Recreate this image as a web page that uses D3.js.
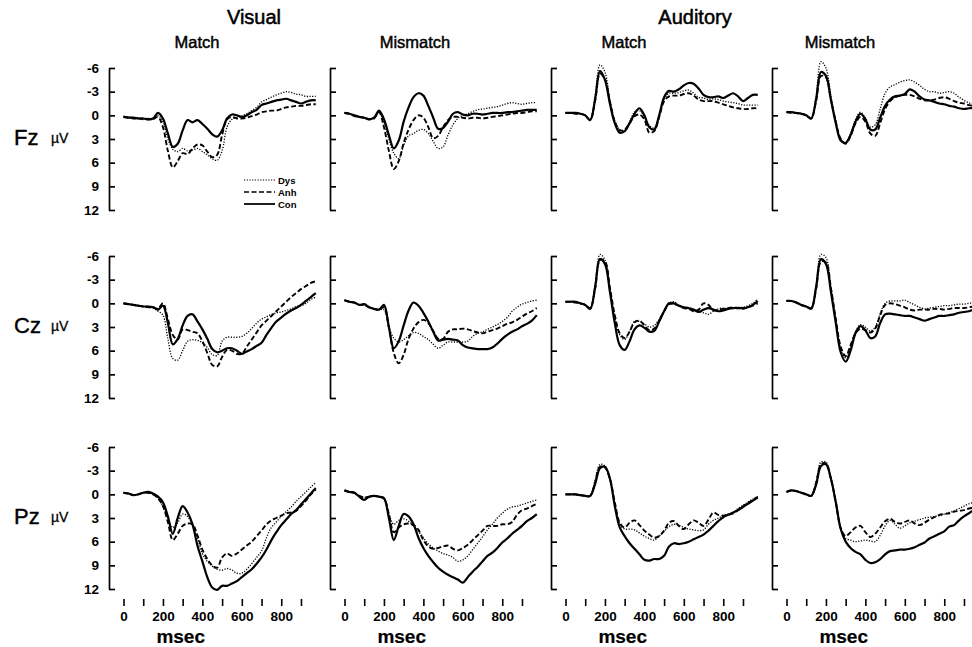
<!DOCTYPE html>
<html>
<head>
<meta charset="utf-8">
<script src="https://cdn.jsdelivr.net/npm/d3@7"></script>
<style>
  body { margin: 0; background: #fff; }
  text { font-family: "Liberation Sans", Arial, Helvetica, sans-serif; fill: #000; }
</style>
</head>
<body>
<svg id="chart"></svg>
<script>
// time points (msec) shared by every waveform
const times = [0,25,50,75,100,125,150,175,200,225,250,275,300,325,350,375,400,425,450,475,
               500,525,550,575,600,625,650,675,700,725,750,775,800,825,850,875,900,925,950,975];

const modalities = ["Visual", "Auditory"];
const conditions = ["Match", "Mismatch", "Match", "Mismatch"];
const sites = ["Fz", "Cz", "Pz"];
const groups = ["Dys", "Anh", "Con"];
const yTicks = [-6, -3, 0, 3, 6, 9, 12];
const xTicks = [0, 100, 200, 300, 400, 500, 600, 700, 800, 900];

// ---- Fz ----
const fzVisMatchDys = [0.1,0.2,0.3,0.3,0.4,0.4,0.4,0.0,0.8,3.0,4.3,4.6,4.2,4.5,4.4,4.2,4.6,5.0,5.5,5.7,4.5,1.5,0.5,0.3,0.1,-0.2,-0.6,-1.0,-1.7,-2.0,-2.3,-2.6,-2.8,-3.0,-2.9,-2.7,-2.6,-2.4,-2.4,-2.4];
const fzVisMatchAnh = [0.2,0.3,0.4,0.4,0.5,0.5,0.5,0.2,1.5,4.5,6.6,5.8,4.8,4.9,4.2,3.7,3.8,4.6,5.3,5.0,2.5,0.5,0.2,0.4,0.4,0.3,0.1,-0.1,-0.4,-0.5,-0.6,-0.6,-0.8,-1.0,-1.1,-1.2,-1.2,-1.3,-1.4,-1.4];
const fzVisMatchCon = [0.2,0.3,0.3,0.4,0.4,0.5,0.4,-0.3,0.4,2.3,4.0,3.6,1.9,0.6,0.9,0.6,1.1,1.7,2.4,2.7,1.9,0.4,-0.1,0.0,0.2,0.0,-0.4,-0.7,-1.3,-1.5,-1.7,-1.9,-2.0,-2.1,-1.9,-1.7,-1.5,-1.7,-1.9,-1.9];

const fzVisMisDys = [-0.3,-0.2,0.0,0.2,0.3,0.5,0.4,-0.4,1.0,3.0,4.8,5.5,3.8,2.6,2.3,1.9,1.8,2.3,3.3,4.2,4.0,2.5,1.2,0.4,0.0,-0.2,-0.5,-0.7,-0.8,-0.9,-1.0,-1.1,-1.3,-1.5,-1.6,-1.5,-1.4,-1.5,-1.6,-1.6];
const fzVisMisAnh = [-0.3,-0.2,0.1,0.2,0.3,0.5,0.4,-0.4,1.5,4.5,6.8,5.8,3.5,1.8,0.6,0.0,0.3,1.5,2.9,2.6,1.5,0.6,0.2,0.2,0.3,0.4,0.3,0.3,0.4,0.3,0.2,0.1,0.0,-0.1,-0.2,-0.3,-0.3,-0.4,-0.5,-0.5];
const fzVisMisCon = [-0.3,-0.2,0.0,0.2,0.3,0.5,0.3,-0.6,0.5,2.5,4.2,3.2,0.8,-1.0,-2.3,-2.8,-2.5,-1.2,0.3,1.7,1.6,0.8,-0.2,-0.4,-0.1,0.0,-0.2,-0.2,-0.1,-0.2,-0.3,-0.3,-0.3,-0.4,-0.4,-0.5,-0.6,-0.7,-0.7,-0.7];

const fzAudMatchDys = [-0.3,-0.3,-0.3,-0.2,0.0,0.5,-2.5,-6.4,-5.5,-2.0,0.7,1.8,2.0,0.8,-0.4,-0.6,0.2,1.3,1.6,0.0,-2.0,-2.8,-2.8,-2.9,-3.1,-3.2,-2.8,-2.3,-2.2,-2.0,-2.1,-2.0,-1.8,-1.7,-1.6,-1.5,-1.3,-1.3,-1.3,-1.3];
const fzAudMatchAnh = [-0.3,-0.3,-0.2,-0.2,0.0,0.6,-1.8,-5.3,-4.6,-1.8,0.8,1.9,1.8,1.0,0.1,-0.1,0.5,2.2,2.0,0.2,-1.8,-2.4,-2.5,-2.5,-2.7,-2.8,-2.5,-2.0,-1.8,-1.8,-1.8,-1.6,-1.4,-1.2,-1.0,-0.9,-0.8,-0.8,-0.9,-0.9];
const fzAudMatchCon = [-0.3,-0.3,-0.3,-0.2,0.0,0.6,-2.0,-5.6,-4.5,-1.5,1.0,2.2,2.0,1.0,-0.2,-0.9,0.0,1.5,1.8,0.0,-2.3,-3.1,-3.0,-3.3,-3.8,-4.1,-4.0,-3.4,-2.6,-2.3,-2.3,-2.4,-2.2,-2.5,-2.8,-2.4,-1.8,-2.2,-2.6,-2.6];

const fzAudMisDys = [-0.4,-0.4,-0.3,-0.2,0.0,0.4,-2.5,-6.8,-6.0,-2.5,0.8,3.0,3.5,2.3,0.5,-0.4,0.3,1.5,1.2,-0.8,-2.8,-3.6,-3.9,-4.2,-4.4,-4.5,-4.2,-3.8,-3.3,-3.0,-3.0,-2.8,-2.9,-3.0,-2.8,-2.3,-1.9,-1.6,-1.5,-1.5];
const fzAudMisAnh = [-0.4,-0.3,-0.3,-0.2,0.0,0.4,-1.8,-5.0,-4.8,-2.0,0.8,3.0,3.6,2.6,1.0,0.2,0.8,2.3,2.6,1.0,-0.8,-1.8,-2.3,-2.5,-2.6,-2.6,-2.4,-2.1,-1.9,-1.9,-2.0,-2.2,-2.3,-2.1,-1.8,-1.6,-1.5,-1.3,-1.2,-1.2];
const fzAudMisCon = [-0.4,-0.4,-0.3,-0.2,0.0,0.4,-2.0,-5.5,-5.0,-2.0,1.0,3.2,3.5,2.5,0.8,-0.2,0.5,1.8,1.8,0.3,-1.2,-2.0,-2.4,-2.5,-2.7,-3.3,-3.0,-2.4,-2.0,-1.9,-1.7,-1.5,-1.4,-1.2,-1.1,-0.9,-0.8,-0.9,-0.9,-0.9];

// ---- Cz ----
const czVisMatchDys = [0.0,0.1,0.2,0.3,0.4,0.5,0.6,1.0,1.5,4.5,7.0,7.2,6.0,4.8,4.6,4.7,5.0,5.6,6.5,6.6,4.8,4.3,4.3,4.3,4.2,3.8,3.2,2.5,2.0,1.7,1.4,1.2,1.1,0.9,0.7,0.4,0.3,0.0,-0.5,-0.8];
const czVisMatchAnh = [0.0,0.1,0.2,0.3,0.4,0.5,0.5,0.7,0.0,2.0,4.0,4.6,3.3,3.4,3.6,3.8,4.8,6.3,7.8,8.0,6.8,5.9,6.0,6.4,6.4,5.5,4.6,3.7,2.8,2.2,1.6,1.0,0.4,-0.2,-0.8,-1.3,-1.8,-2.2,-2.6,-2.8];
const czVisMatchCon = [0.0,0.1,0.2,0.3,0.4,0.4,0.5,0.8,0.3,2.5,5.2,4.5,2.8,1.6,1.4,2.3,3.3,4.5,5.8,6.2,6.0,5.7,5.7,6.0,6.4,6.1,5.8,5.4,5.0,4.0,3.1,2.3,1.8,1.3,0.9,0.6,0.2,-0.3,-0.8,-1.3];

const czVisMisDys = [-0.4,-0.2,-0.1,0.2,0.2,0.5,0.7,0.8,0.8,3.0,4.4,4.9,4.6,4.1,3.7,3.8,4.2,4.6,5.2,5.7,5.3,4.9,4.9,4.9,4.9,4.8,4.2,3.8,3.6,3.3,3.0,2.7,2.3,1.8,1.0,0.5,0.1,-0.1,-0.3,-0.4];
const czVisMisAnh = [-0.4,-0.2,-0.1,0.2,0.2,0.5,0.7,0.8,0.5,3.0,6.3,7.6,6.5,4.5,3.2,2.4,2.1,2.5,3.5,4.5,4.5,3.6,3.3,3.3,3.2,3.3,3.5,3.7,3.8,3.6,3.4,3.2,2.9,2.6,2.4,2.1,1.7,1.3,1.0,0.6];
const czVisMisCon = [-0.4,-0.2,-0.1,0.2,0.1,0.5,0.7,0.8,0.2,3.0,5.7,4.8,2.8,0.9,-0.1,0.3,1.2,2.3,3.6,4.7,4.6,4.5,4.6,4.7,5.3,5.6,5.7,5.8,5.8,5.8,5.6,5.1,4.5,4.0,3.6,3.3,2.9,2.6,2.2,1.5];

const czAudMatchDys = [-0.2,-0.2,-0.2,0.0,0.2,0.6,-2.4,-6.2,-5.5,-2.0,1.8,4.0,4.6,3.5,2.3,2.3,2.6,3.0,2.8,2.0,1.0,0.0,-0.2,0.2,0.5,0.6,0.8,1.0,1.2,1.4,1.0,0.7,0.6,0.7,0.6,0.5,0.5,0.3,0.0,-0.6];
const czAudMatchAnh = [-0.2,-0.2,-0.1,0.0,0.2,0.6,-1.8,-5.5,-5.3,-2.0,1.5,3.8,4.4,3.6,2.4,2.2,2.8,3.4,3.2,2.2,1.0,0.1,0.1,0.3,0.6,0.7,1.0,0.8,0.0,0.2,0.9,0.8,0.7,0.6,0.5,0.6,0.7,0.5,0.3,0.0];
const czAudMatchCon = [-0.2,-0.2,-0.2,0.0,0.2,0.7,-2.0,-5.6,-5.0,-1.5,2.5,5.3,5.9,4.8,3.3,2.8,3.1,3.6,3.5,2.3,1.0,0.0,0.0,0.3,0.5,0.6,0.8,1.1,0.8,0.6,0.8,1.0,0.9,0.7,0.6,0.6,0.6,0.5,0.2,-0.3];

const czAudMisDys = [-0.3,-0.3,-0.1,0.2,0.4,0.6,-2.4,-6.2,-5.8,-2.0,2.0,5.8,6.9,5.5,3.6,2.7,3.0,3.5,3.0,1.3,0.0,-0.3,-0.3,-0.3,-0.4,-0.1,0.2,0.5,0.7,0.6,0.5,0.4,0.3,0.3,0.2,0.1,0.1,0.0,-0.1,-0.1];
const czAudMisAnh = [-0.3,-0.3,-0.1,0.2,0.4,0.6,-1.8,-5.3,-5.2,-2.0,2.0,5.5,6.7,5.3,3.8,3.2,3.4,3.7,3.2,1.5,0.2,0.0,0.1,0.3,0.5,0.8,0.9,0.8,0.8,0.8,0.7,0.7,0.8,0.7,0.6,0.6,0.6,0.5,0.4,0.4];
const czAudMisCon = [-0.3,-0.3,-0.1,0.2,0.4,0.7,-2.0,-5.6,-5.0,-1.5,2.5,6.2,7.4,6.0,3.8,2.9,3.4,4.4,4.2,2.5,1.4,1.3,1.4,1.5,1.6,1.6,1.8,2.0,2.2,2.0,1.8,1.6,1.6,1.5,1.4,1.2,1.1,1.0,0.8,0.8];

// ---- Pz ----
const pzVisMatchDys = [-0.2,-0.1,0.1,0.0,-0.2,-0.2,0.0,0.5,1.5,3.0,4.2,3.6,2.5,2.8,4.0,5.5,7.5,8.5,9.1,9.5,9.6,9.4,9.6,10.0,10.0,9.5,8.8,8.0,7.2,5.5,4.2,3.5,2.8,2.2,1.6,0.9,0.3,-0.3,-0.9,-1.5];
const pzVisMatchAnh = [-0.2,-0.1,0.1,0.0,-0.2,-0.2,0.0,0.5,1.5,3.5,5.8,5.0,4.0,3.7,3.8,5.2,7.0,8.2,9.0,9.3,8.0,7.5,7.8,7.5,7.0,6.5,6.0,5.3,4.6,3.8,3.3,3.0,2.7,2.4,2.3,2.1,1.5,0.8,0.0,-0.6];
const pzVisMatchCon = [-0.2,-0.1,0.1,0.0,-0.2,-0.3,-0.1,0.3,1.0,2.8,5.0,3.0,1.5,2.3,3.8,6.5,8.5,10.5,11.8,12.1,11.6,11.6,11.3,11.0,10.5,10.0,9.5,8.8,8.0,7.0,5.8,4.8,3.9,3.2,2.5,2.0,1.3,0.6,-0.1,-0.8];

const pzVisMisDys = [-0.5,-0.3,-0.2,0.2,0.4,0.3,0.2,0.3,0.5,2.5,3.8,3.3,3.1,3.4,4.0,4.7,5.5,6.3,6.8,7.2,7.5,7.7,8.0,8.5,8.3,7.8,7.0,6.2,5.4,4.5,3.8,3.0,2.4,1.9,1.6,1.5,1.3,1.1,0.9,0.7];
const pzVisMisAnh = [-0.5,-0.3,-0.2,0.2,0.4,0.3,0.2,0.3,0.5,2.5,4.8,4.2,3.8,3.7,3.9,4.5,5.8,6.6,6.9,6.8,6.6,6.5,6.9,7.1,6.8,6.4,5.8,5.2,4.6,4.0,4.0,4.0,3.8,3.8,3.5,2.6,2.0,1.8,1.5,1.2];
const pzVisMisCon = [-0.5,-0.3,-0.2,0.3,0.7,0.3,0.2,0.3,0.5,3.0,5.8,4.0,2.5,2.8,3.8,5.5,6.8,7.8,8.6,9.3,9.8,10.2,10.5,10.8,11.2,10.5,9.8,9.2,8.5,7.8,7.4,6.8,6.1,5.6,5.0,4.5,4.0,3.4,3.0,2.5];

const pzAudMatchDys = [0.0,0.0,0.0,0.1,0.2,0.2,-1.8,-3.8,-3.6,-2.0,1.2,3.8,4.4,4.4,4.5,4.9,5.3,5.6,5.8,5.3,4.7,4.1,3.8,3.9,4.2,4.4,4.5,4.6,4.5,3.8,3.3,3.0,2.7,2.5,2.3,1.8,1.4,1.0,0.6,0.3];
const pzAudMatchAnh = [0.0,0.0,0.0,0.1,0.2,0.2,-1.5,-3.5,-3.4,-2.0,1.0,3.6,4.2,3.6,3.3,3.9,4.6,5.1,5.5,5.3,4.6,3.6,3.4,4.0,4.4,3.8,3.3,3.6,4.0,3.2,2.3,2.6,2.7,2.6,2.4,2.0,1.5,1.1,0.7,0.3];
const pzAudMatchCon = [0.0,0.0,0.0,0.1,0.2,0.2,-1.3,-3.3,-3.5,-2.0,1.5,4.2,5.3,6.2,6.9,7.6,8.3,8.4,8.2,8.2,7.8,6.6,6.2,6.3,6.2,6.0,5.7,5.4,5.1,4.6,4.0,3.4,2.9,2.6,2.3,2.0,1.6,1.2,0.8,0.4];

const pzAudMisDys = [-0.3,-0.5,-0.4,-0.2,0.0,0.2,-1.6,-4.1,-4.1,-2.0,1.0,4.3,5.6,5.8,6.0,5.9,5.8,5.9,6.0,5.2,4.0,3.3,3.8,4.3,4.0,3.6,3.4,3.2,3.0,2.9,2.8,2.7,2.5,2.3,2.1,1.8,1.5,1.2,1.0,0.8];
const pzAudMisAnh = [-0.3,-0.5,-0.4,-0.2,0.0,0.2,-1.4,-3.8,-3.9,-2.0,1.0,4.3,5.3,4.8,4.2,4.0,4.8,5.4,5.0,4.2,3.4,3.1,3.5,3.7,3.5,3.3,3.7,3.9,3.6,3.2,2.9,2.6,2.5,2.4,2.2,2.1,2.0,1.8,1.7,1.6];
const pzAudMisCon = [-0.3,-0.5,-0.4,-0.2,0.0,0.2,-1.2,-3.6,-3.8,-2.0,1.0,4.4,6.0,6.8,7.3,7.6,8.3,8.7,8.6,8.2,7.6,7.2,7.1,7.0,7.0,6.9,6.7,6.4,6.1,5.6,5.3,5.0,4.7,4.1,3.9,3.3,2.8,2.4,2.0,1.7];

// grid of panels [row][col] -> [Dys, Anh, Con]
const panelData = [
  [[fzVisMatchDys, fzVisMatchAnh, fzVisMatchCon], [fzVisMisDys, fzVisMisAnh, fzVisMisCon],
   [fzAudMatchDys, fzAudMatchAnh, fzAudMatchCon], [fzAudMisDys, fzAudMisAnh, fzAudMisCon]],
  [[czVisMatchDys, czVisMatchAnh, czVisMatchCon], [czVisMisDys, czVisMisAnh, czVisMisCon],
   [czAudMatchDys, czAudMatchAnh, czAudMatchCon], [czAudMisDys, czAudMisAnh, czAudMisCon]],
  [[pzVisMatchDys, pzVisMatchAnh, pzVisMatchCon], [pzVisMisDys, pzVisMisAnh, pzVisMisCon],
   [pzAudMatchDys, pzAudMatchAnh, pzAudMatchCon], [pzAudMisDys, pzAudMisAnh, pzAudMisCon]]
];

// ---- layout ----
const width = 972, height = 647;
const axisX = [109, 330, 551, 772];   // vertical axis of each column
const rowTop = [68, 256, 447];        // pixel of -6 uV in each row
const rowH = 142;
const msPx = 0.1972;                  // pixels per msec

const styles = {
  Dys: { width: 1.3, dash: "1.2,1.5" },
  Anh: { width: 1.9, dash: "5,2.5" },
  Con: { width: 2.2, dash: null }
};

const svg = d3.select("#chart")
  .attr("width", width)
  .attr("height", height)
  .style("background", "#fff");

const xScales = axisX.map(a => d3.scaleLinear().domain([0, 900]).range([a + 14.5, a + 14.5 + 900 * msPx]));
const yScales = rowTop.map(t => d3.scaleLinear().domain([-6, 12]).range([t, t + rowH]));

// thickened text, a bit like the printed figure
function heavy(sel, w) {
  return sel.attr("stroke", "#000").attr("stroke-width", w).attr("paint-order", "stroke");
}

// headings
heavy(svg.append("text").attr("x", 254).attr("y", 24).attr("text-anchor", "middle")
  .style("font-size", "20px").text(modalities[0]), 0.5);
heavy(svg.append("text").attr("x", 695).attr("y", 24).attr("text-anchor", "middle")
  .style("font-size", "20px").text(modalities[1]), 0.5);

const subX = [197, 415, 624, 840];
conditions.forEach((c, i) => {
  heavy(svg.append("text").attr("x", subX[i]).attr("y", 48).attr("text-anchor", "middle")
    .style("font-size", "16.5px").text(c), 0.45);
});

sites.forEach((site, r) => {
  const y = yScales[r];

  // row label
  heavy(svg.append("text").attr("x", 14).attr("y", y(2.7) + 8)
    .style("font-size", "22px").text(site), 0.4);
  heavy(svg.append("text").attr("x", 51).attr("y", y(2.7) + 6)
    .style("font-size", "14px").text("µV"), 0.3);

  axisX.forEach((ax, c) => {
    const x = xScales[c];

    const axis = d3.axisLeft(y).tickValues(yTicks).tickSizeInner(-6).tickSizeOuter(0).tickPadding(10)
      .tickFormat(d => c > 0 ? "" : String(d));
    const g = svg.append("g").attr("transform", `translate(${ax},0)`).call(axis);
    g.selectAll("path, line").attr("stroke", "#000").attr("stroke-width", 1.7);
    g.selectAll("text").style("font-size", "13.5px").style("font-weight", "bold")
      .style("font-family", "'Liberation Sans', Arial, sans-serif");

    const line = d3.line()
      .x((d, i) => x(times[i]))
      .y(d => y(d))
      .curve(d3.curveCatmullRom.alpha(0.5));

    panelData[r][c].forEach((series, k) => {
      const st = styles[groups[k]];
      svg.append("path")
        .datum(series)
        .attr("fill", "none")
        .attr("stroke", "#000")
        .attr("stroke-width", st.width)
        .attr("stroke-dasharray", st.dash)
        .attr("stroke-linejoin", "round")
        .attr("d", line);
    });

    // time axis on the bottom row only
    if (r === sites.length - 1) {
      const xa = d3.axisBottom(x).tickValues(xTicks).tickSize(7).tickPadding(5)
        .tickFormat(d => d % 200 === 0 ? String(d) : "");
      const gx = svg.append("g").attr("transform", `translate(0,${y(12) + 10})`).call(xa);
      gx.select(".domain").remove();
      gx.selectAll("line").attr("stroke", "#000").attr("stroke-width", 1.6);
      gx.selectAll("text").style("font-size", "13.5px").style("font-weight", "bold")
        .style("font-family", "'Liberation Sans', Arial, sans-serif");
      heavy(svg.append("text").attr("x", x(290)).attr("y", 643).attr("text-anchor", "middle")
        .style("font-size", "19px").style("font-weight", "bold").text("msec"), 0.2);
    }
  });
});

// legend inside the first panel
const lx0 = 244, lx1 = 275, ly = [180, 192, 204];
groups.forEach((gname, k) => {
  const st = styles[gname];
  svg.append("line").attr("x1", lx0).attr("x2", lx1).attr("y1", ly[k]).attr("y2", ly[k])
    .attr("stroke", "#000").attr("stroke-width", st.width * 0.8).attr("stroke-dasharray", st.dash);
  svg.append("text").attr("x", lx1 + 3).attr("y", ly[k] + 3.5)
    .style("font-size", "9.5px").style("font-weight", "bold").text(gname);
});
</script>
</body>
</html>
